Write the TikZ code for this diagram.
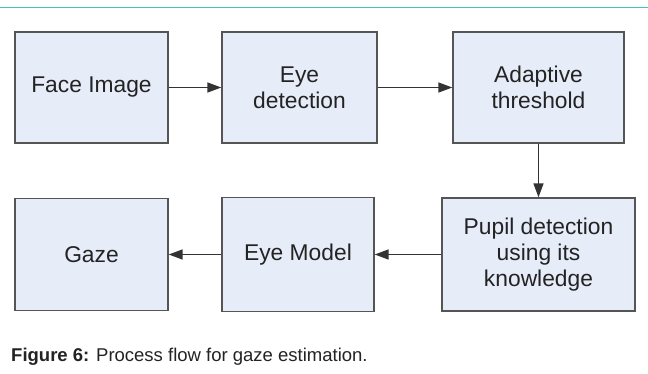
\documentclass[tikz,border=0pt]{standalone}
\usepackage{fontspec}
\setmainfont{Liberation Sans}
\usetikzlibrary{arrows.meta}
\definecolor{boxfill}{RGB}{230,236,248}
\definecolor{boxdraw}{RGB}{85,85,85}
\definecolor{txt}{RGB}{35,35,35}
\definecolor{rule}{RGB}{70,195,178}
\begin{document}
\begin{tikzpicture}[x=1pt,y=1pt,
  box/.style={draw=boxdraw,fill=boxfill,line width=1.4pt,inner sep=0pt,align=center,
    text=txt,font=\fontsize{22.8}{26}\selectfont},
  flow/.style={draw=black!80,line width=1.5pt,-{Triangle[length=14pt,width=10pt]}}]
\useasboundingbox (0,0) rectangle (648,-373);
\fill[white] (0,0) rectangle (648,-373);
\draw[rule,line width=1.8pt] (0,-7.5) -- (648,-7.5);
\node[box,minimum width=153pt,minimum height=111pt] (face) at (91.5,-87.5) {Face Image};
\node[box,minimum width=155pt,minimum height=111pt] (eye) at (299.5,-87.5) {Eye\\detection};
\node[box,minimum width=171pt,minimum height=111pt] (adapt) at (538.5,-87.5) {Adaptive\\threshold};
\node[box,minimum width=193pt,minimum height=113pt] (pupil) at (538.5,-254.5) {Pupil detection\\using its\\knowledge};
\node[box,minimum width=152pt,minimum height=114pt] (model) at (298,-254.5) {Eye Model};
\node[box,minimum width=153pt,minimum height=112pt] (gaze) at (91.5,-254.5) {Gaze};
\draw[flow] (face) -- (eye);
\draw[flow] (eye) -- (adapt);
\draw[flow] (adapt) -- (pupil);
\draw[flow] (pupil) -- (model);
\draw[flow] (model) -- (gaze);
\node[anchor=west,inner sep=0pt,text=txt,font=\fontsize{18.5}{22}\selectfont] (cap) at (11,-357) {\textbf{Figure 6:} Process flow for gaze estimation.};
\end{tikzpicture}
\end{document}
